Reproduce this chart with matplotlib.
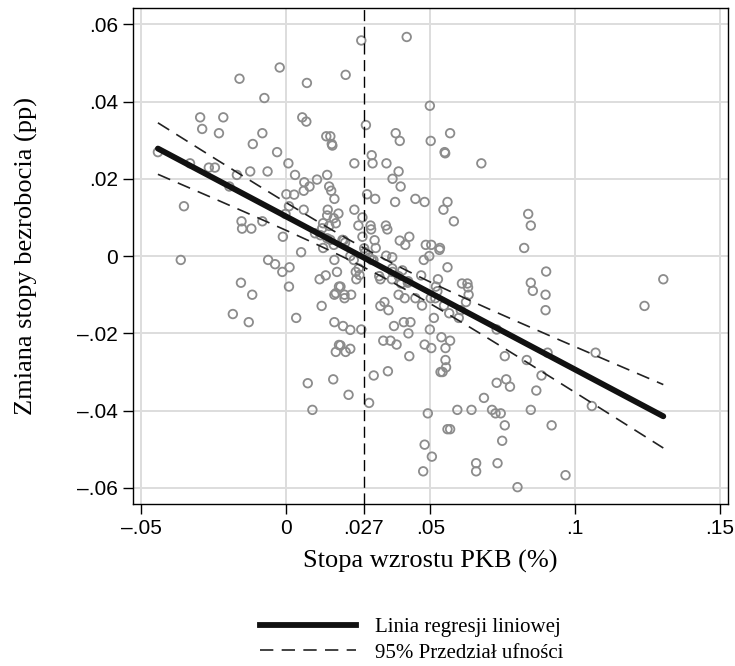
import matplotlib as mpl
mpl.use("Agg")
import matplotlib.pyplot as plt
from matplotlib.lines import Line2D
import numpy as np

# GDP growth rate vs change in unemployment rate, one point per observation
gdp_growth = [
    -0.0021, -0.0160, 0.0073, -0.0074, -0.0296, -0.0216, -0.0289, -0.0231, -0.0081, 0.0057,
    0.0071, 0.0140, 0.0154, 0.0159, 0.0161, -0.0114, -0.0442, -0.0030, -0.0331, -0.0266,
    -0.0245, 0.0009, -0.0169, -0.0123, -0.0063, 0.0032, 0.0143, 0.0064, 0.0082, 0.0062,
    0.0108, 0.0150, 0.0157, 0.0168, -0.0195, 0.0002, 0.0029, -0.0352, 0.0011, 0.0062,
    0.0145, 0.0143, -0.0001, -0.0153, -0.0081, -0.0151, -0.0119, -0.0010, 0.0101, 0.0129,
    0.0126, 0.0166, 0.0154, 0.0166, 0.0129, 0.0053, -0.0363, -0.0061, -0.0037, -0.0012,
    0.0013, 0.0011, -0.0155, -0.0116, -0.0183, -0.0128, 0.0036, 0.0117, 0.0138, 0.0168,
    0.0177, 0.0184, 0.0168, 0.0124, 0.0168, 0.0184, 0.0173, 0.0164, 0.0076, 0.0092,
    0.0261, 0.0418, 0.0207, 0.0498, 0.0277, 0.0380, 0.0394, 0.0501, 0.0568, 0.0549,
    0.0551, 0.0676, 0.0297, 0.0300, 0.0237, 0.0348, 0.0390, 0.0369, 0.0397, 0.0281,
    0.0309, 0.0378, 0.0448, 0.0480, 0.0559, 0.0545, 0.0581, 0.0237, 0.0265, 0.0251,
    0.0293, 0.0295, 0.0346, 0.0351, 0.0427, 0.0394, 0.0413, 0.0265, 0.0200, 0.0307,
    0.0311, 0.0484, 0.0503, 0.0533, 0.0824, 0.0838, 0.0847, 0.0271, 0.0275, 0.0173,
    0.0203, 0.0226, 0.0203, 0.0189, 0.0223, 0.0235, 0.0242, 0.0244, 0.0297, 0.0323,
    0.0327, 0.0369, 0.0367, 0.0390, 0.0399, 0.0422, 0.0390, 0.0411, 0.0327, 0.0341,
    0.0355, 0.0198, 0.0223, 0.0261, 0.0189, 0.0207, 0.0223, 0.0217, 0.0288, 0.0304,
    0.0353, 0.0337, 0.0362, 0.0383, 0.0374, 0.0408, 0.0431, 0.0424, 0.0427, 0.0448,
    0.0471, 0.0468, 0.0477, 0.0496, 0.0531, 0.0559, 0.0526, 0.0519, 0.0524, 0.0501,
    0.0517, 0.0547, 0.0565, 0.0598, 0.0605, 0.0512, 0.0498, 0.0480, 0.0503, 0.0538,
    0.0568, 0.0552, 0.0552, 0.0554, 0.0535, 0.0542, 0.0609, 0.0628, 0.0630, 0.0632,
    0.0623, 0.0729, 0.0757, 0.0833, 0.0491, 0.0480, 0.0505, 0.0475, 0.0559, 0.0568,
    0.0593, 0.0642, 0.0685, 0.0713, 0.0725, 0.0743, 0.0757, 0.0748, 0.0729, 0.0762,
    0.0775, 0.0658, 0.0658, 0.0732, 0.0801, 0.0847, 0.0900, 0.0847, 0.0854, 0.0898,
    0.0898, 0.1305, 0.1240, 0.0905, 0.1071, 0.0884, 0.0866, 0.0919, 0.1058, 0.0967,
    0.0182, 0.0173, 0.0150, 0.0143, 0.0196, 0.0205, 0.0289, 0.0303, 0.0347, 0.0368,
    0.0368, 0.0403, 0.0423, 0.0252, 0.0255, 0.0120,
]
unemp_change = [
    0.0488, 0.0459, 0.0448, 0.0409, 0.0359, 0.0359, 0.0329, 0.0318, 0.0318, 0.0359,
    0.0348, 0.0310, 0.0310, 0.0290, 0.0286, 0.0290, 0.0269, 0.0269, 0.0240, 0.0229,
    0.0229, 0.0240, 0.0210, 0.0219, 0.0219, 0.0210, 0.0210, 0.0191, 0.0180, 0.0169,
    0.0198, 0.0180, 0.0169, 0.0148, 0.0180, 0.0160, 0.0159, 0.0129, 0.0129, 0.0120,
    0.0120, 0.0105, 0.0109, 0.0090, 0.0090, 0.0071, 0.0071, 0.0050, 0.0059, 0.0085,
    0.0072, 0.0098, 0.0042, 0.0029, 0.0021, 0.0010, -0.0010, -0.0010, -0.0021, -0.0041,
    -0.0029, -0.0079, -0.0069, -0.0100, -0.0150, -0.0171, -0.0160, -0.0060, -0.0050, -0.0010,
    -0.0041, -0.0079, -0.0100, -0.0129, -0.0171, -0.0230, -0.0248, -0.0319, -0.0329, -0.0398,
    0.0558, 0.0567, 0.0469, 0.0389, 0.0339, 0.0318, 0.0298, 0.0298, 0.0318, 0.0269,
    0.0266, 0.0240, 0.0261, 0.0240, 0.0240, 0.0240, 0.0219, 0.0200, 0.0180, 0.0160,
    0.0148, 0.0140, 0.0148, 0.0140, 0.0140, 0.0120, 0.0090, 0.0120, 0.0100, 0.0079,
    0.0079, 0.0069, 0.0079, 0.0069, 0.0050, 0.0040, 0.0029, 0.0050, 0.0041, 0.0041,
    0.0021, 0.0029, 0.0029, 0.0021, 0.0021, 0.0109, 0.0079, 0.0020, 0.0010, -0.0096,
    -0.0100, -0.0100, -0.0109, -0.0079, 0.0000, -0.0010, -0.0041, -0.0060, -0.0010, -0.0052,
    -0.0060, -0.0041, -0.0060, -0.0052, -0.0071, -0.0069, -0.0100, -0.0109, -0.0129, -0.0119,
    -0.0140, -0.0181, -0.0191, -0.0190, -0.0231, -0.0248, -0.0240, -0.0359, -0.0380, -0.0309,
    -0.0298, -0.0219, -0.0219, -0.0229, -0.0181, -0.0171, -0.0171, -0.0200, -0.0259, -0.0109,
    -0.0128, -0.0050, -0.0010, 0.0000, 0.0016, -0.0029, -0.0060, -0.0079, -0.0091, -0.0109,
    -0.0109, -0.0128, -0.0148, -0.0160, -0.0140, -0.0160, -0.0190, -0.0229, -0.0238, -0.0210,
    -0.0219, -0.0238, -0.0269, -0.0288, -0.0300, -0.0300, -0.0071, -0.0071, -0.0081, -0.0100,
    -0.0119, -0.0190, -0.0259, -0.0269, -0.0407, -0.0488, -0.0519, -0.0557, -0.0448, -0.0448,
    -0.0398, -0.0398, -0.0367, -0.0398, -0.0407, -0.0407, -0.0438, -0.0478, -0.0328, -0.0319,
    -0.0338, -0.0536, -0.0557, -0.0536, -0.0598, -0.0398, -0.0040, -0.0069, -0.0090, -0.0100,
    -0.0140, -0.0060, -0.0129, -0.0250, -0.0250, -0.0309, -0.0348, -0.0438, -0.0388, -0.0567,
    0.0110, 0.0085, 0.0078, 0.0046, 0.0042, 0.0035, -0.0004, -0.0010, 0.0001, -0.0003,
    -0.0032, -0.0037, -0.0065, -0.0032, -0.0049, 0.0054,
]
gdp_mean_mark = 0.027

x_ticks = [-0.05, 0, 0.027, 0.05, 0.1, 0.15]
x_tick_labels = ['\u2013.05', '0', '.027', '.05', '.1', '.15']
x_grid = [-0.05, 0, 0.05, 0.1, 0.15]
y_ticks = [0.06, 0.04, 0.02, 0, -0.02, -0.04, -0.06]
y_tick_labels = ['.06', '.04', '.02', '0', '\u2013.02', '\u2013.04', '\u2013.06']

x = np.array(gdp_growth)
y = np.array(unemp_change)

# linear fit with a 95% confidence band for the mean
slope, intercept = np.polyfit(x, y, 1)
n = len(x)
resid = y - (intercept + slope * x)
s = np.sqrt(np.sum(resid ** 2) / (n - 2))
sxx = np.sum((x - x.mean()) ** 2)
xf = np.linspace(x.min(), x.max(), 200)
yf = intercept + slope * xf
half = 1.97 * s * np.sqrt(1.0 / n + (xf - x.mean()) ** 2 / sxx)

fig = plt.figure(figsize=(7.35, 6.66), dpi=100)
ax = fig.add_axes([0.181, 0.243, 0.810, 0.745])

for gx in x_grid:
    ax.axvline(gx, color='#dddddd', lw=1.4, zorder=0)
for gy in y_ticks:
    ax.axhline(gy, color='#dddddd', lw=1.4, zorder=0)

ax.scatter(x, y, s=38, facecolors='none', edgecolors='#8c8c8c', linewidths=1.3, zorder=2)
ax.axvline(gdp_mean_mark, color='black', lw=1.0, ls=(0, (8, 4)), zorder=3)
ax.plot(xf, yf, color='#111111', lw=4.2, solid_capstyle='round', zorder=4)
ax.plot(xf, yf + half, color='#222222', lw=1.2, ls=(0, (8, 5)), zorder=4)
ax.plot(xf, yf - half, color='#222222', lw=1.2, ls=(0, (8, 5)), zorder=4)

ax.set_xlim(-0.0528, 0.153)
ax.set_ylim(-0.0642, 0.0642)
ax.set_xticks(x_ticks)
ax.set_xticklabels(x_tick_labels)
ax.set_yticks(y_ticks)
ax.set_yticklabels(y_tick_labels)
ax.tick_params(direction='out', length=7, width=1, color='black', pad=4)
for lab in ax.get_xticklabels() + ax.get_yticklabels():
    lab.set_fontfamily('Liberation Sans')
    lab.set_fontsize(15)
for sp in ax.spines.values():
    sp.set_linewidth(1.0)
    sp.set_color('black')

ax.set_xlabel('Stopa wzrostu PKB (%)', fontfamily='Liberation Serif', fontsize=19, labelpad=8)
ax.set_ylabel('Zmiana stopy bezrobocia (pp)', fontfamily='Liberation Serif', fontsize=19, labelpad=28)

handles = [Line2D([], [], color='#111111', lw=4.2),
           Line2D([], [], color='#222222', lw=1.2, ls=(0, (8, 5)))]
fig.legend(handles, ['Linia regresji liniowej', '95% Przedział ufności'],
           loc='center', bbox_to_anchor=(0.56, 0.039), frameon=False,
           prop={'family': 'Liberation Serif', 'size': 15},
           handlelength=4.6, handletextpad=0.9, labelspacing=0.3)

fig.savefig('out.png', dpi=100)
plt.close(fig)
